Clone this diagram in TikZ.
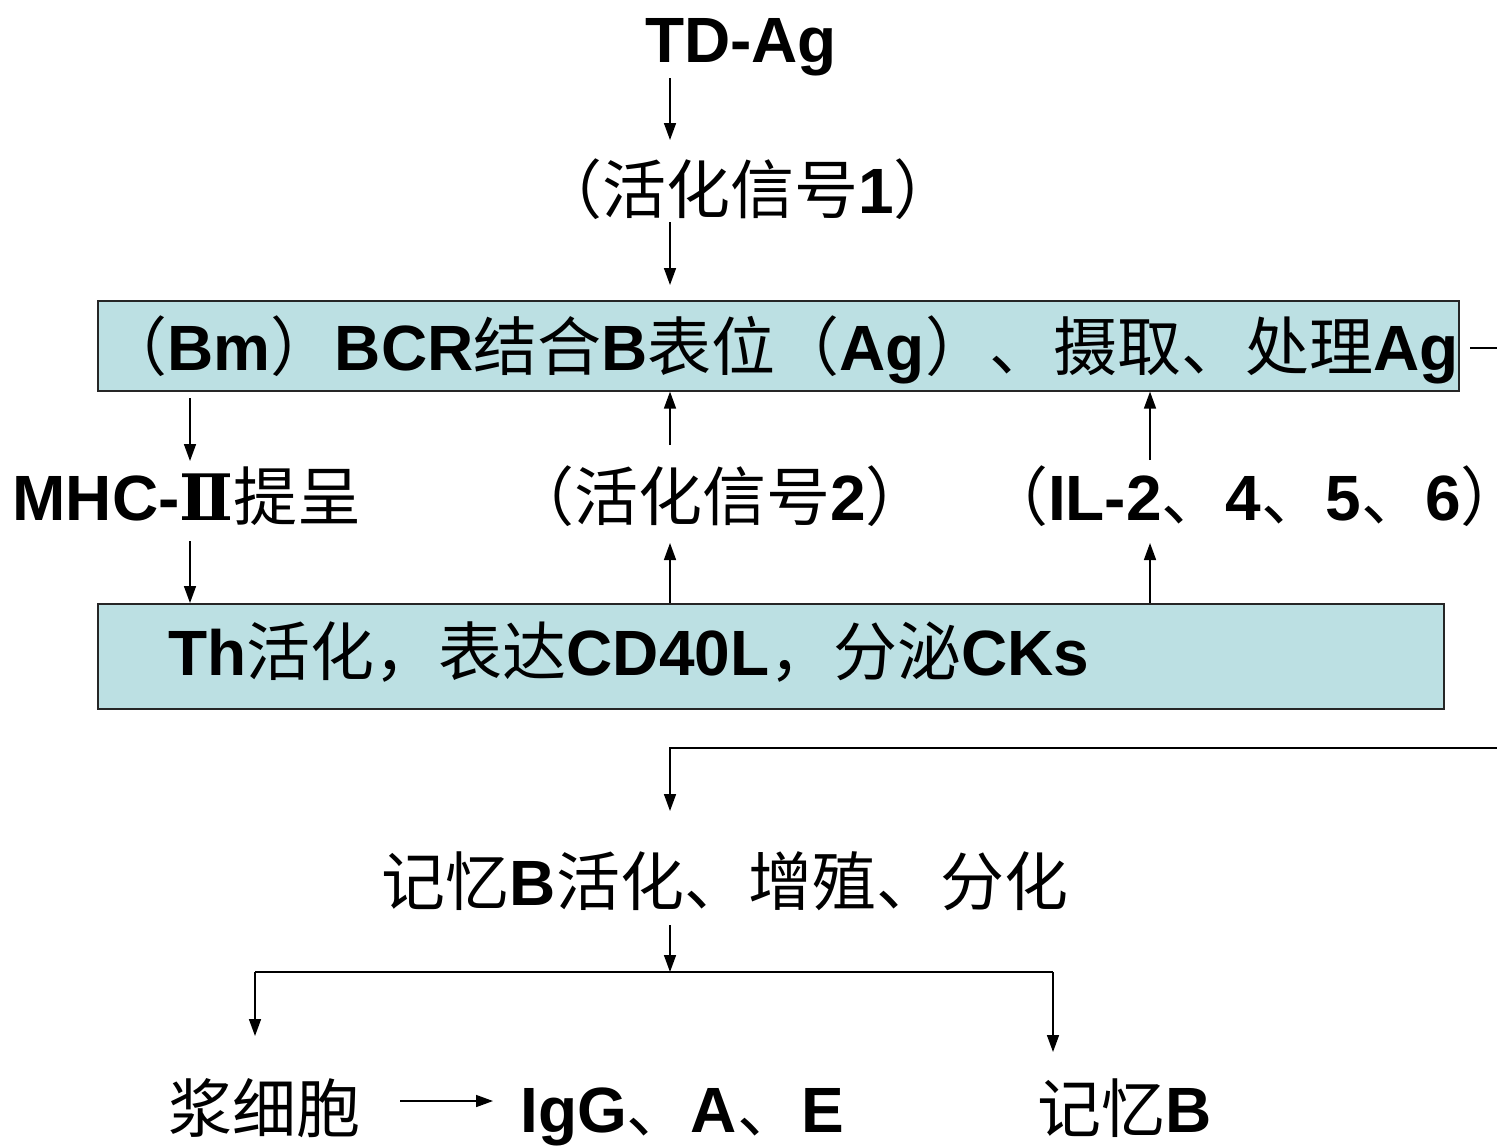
\documentclass[tikz,border=0pt]{standalone}
\usepackage{fontspec}
\setmainfont{Liberation Sans}
\newfontfamily\cjk{Noto Sans CJK SC}
\newfontfamily\dvserif{DejaVu Serif}
\usetikzlibrary{arrows.meta}
\newcommand{\zh}[1]{{\cjk\mdseries #1}}
\definecolor{boxfill}{RGB}{188,224,227}
\begin{document}
\begin{tikzpicture}[x=0.5pt,y=-0.5pt,
  txt/.style={inner sep=0pt,anchor=base,font=\fontsize{32}{38}\selectfont\bfseries},
  panel/.style={draw=black!85,line width=0.8pt,fill=boxfill},
  arr/.style={line width=0.8pt,-{Triangle[length=8.5pt,width=6pt]}},
  ln/.style={line width=0.8pt}]
\useasboundingbox (0,0) rectangle (1497,1146);
% boxes
\node[panel,minimum width=680.5pt,minimum height=45pt,anchor=north west,inner sep=0pt] (box1) at (97,300) {};
\node[panel,minimum width=673pt,minimum height=52.5pt,anchor=north west,inner sep=0pt] (box2) at (97,603) {};
% texts
\node[txt] (td) at (741,62) {TD-Ag};
\node[txt] (s1) at (748,213) {\zh{（活化信号}1\zh{）}};
\node[txt] (bcr) at (781,370) {\zh{（}Bm\zh{）}BCR\zh{结合}B\zh{表位（}Ag\zh{）、摄取、处理}Ag};
\node[txt] (mhc) at (187,520) {MHC-{\dvserif\bfseries Ⅱ}\zh{提呈}};
\node[txt,anchor=base east] (il) at (1493,520) {\zh{（}IL-2\zh{、}4\zh{、}5\zh{、}6\zh{）}\kern-0.5em};
\node[txt] (s2) at (720,520) {\zh{（活化信号}2\zh{）}};
\node[txt] (th) at (629,675) {Th\zh{活化，表达}CD40L\zh{，分泌}CKs};
\node[txt] (mem) at (725,905) {\zh{记忆}B\zh{活化、增殖、分化}};
\node[txt] (pc) at (264,1132) {\zh{浆细胞}};
\node[txt] (ig) at (682,1132) {IgG\zh{、}A\zh{、}E};
\node[txt] (mb) at (1125,1132) {\zh{记忆}B};
% coordinates
\coordinate (a1s) at (670,78);  \coordinate (a1e) at (670,140);
\coordinate (a2s) at (670,222); \coordinate (a2e) at (670,285);
\coordinate (m1s) at (190,398); \coordinate (m1e) at (190,461);
\coordinate (m2s) at (190,541);
\coordinate (u1e) at (670,543); \coordinate (u2s) at (670,445);
\coordinate (v1e) at (1150,543); \coordinate (v2s) at (1150,460);
\coordinate (rr1) at (1470,348); \coordinate (rr2) at (1497,348);
\coordinate (fb1) at (1497,748); \coordinate (fb2) at (670,748); \coordinate (fb3) at (670,811);
\coordinate (b1) at (670,925); \coordinate (b2) at (670,972);
\coordinate (bl) at (255,972); \coordinate (ble) at (255,1036);
\coordinate (br) at (1053,972); \coordinate (bre) at (1053,1052);
\coordinate (hs) at (400,1101); \coordinate (he) at (493,1101);
% connectors
\draw[arr] (a1s) -- (a1e);
\draw[arr] (a2s) -- (a2e);
\draw[arr] (m1s) -- (m1e);
\draw[arr] (m2s) -- (box2.north -| m2s);
\draw[arr] (box2.north -| u1e) -- (u1e);
\draw[arr] (u2s) -- (box1.south -| u2s);
\draw[arr] (box2.north -| v1e) -- (v1e);
\draw[arr] (v2s) -- (box1.south -| v2s);
\draw[ln] (rr1) -- (rr2);
\draw[arr] (fb1) -- (fb2) -- (fb3);
\draw[arr] (b1) -- (b2);
\draw[ln] (bl) -- (br);
\draw[arr] (bl) -- (ble);
\draw[arr] (br) -- (bre);
\draw[arr] (hs) -- (he);
\end{tikzpicture}
\end{document}
